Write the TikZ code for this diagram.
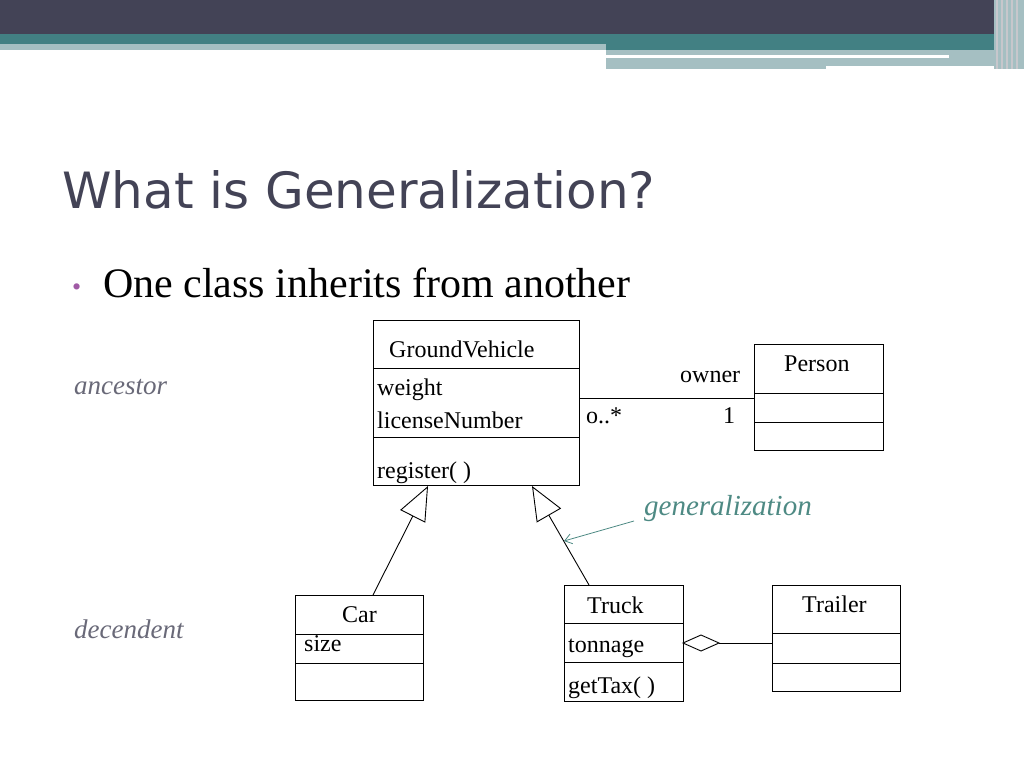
\documentclass[tikz,border=0pt]{standalone}
\usepackage{fontspec}
\setmainfont{Liberation Serif}
\newfontfamily\titlefont{DejaVu Sans}
\usetikzlibrary{arrows.meta}
\definecolor{dark}{HTML}{434356}
\definecolor{teal}{HTML}{428083}
\definecolor{lite}{HTML}{A5BFC2}
\definecolor{gen}{HTML}{4E8A84}
\definecolor{bul}{HTML}{A05AA5}
\tikzset{
 box/.style={draw,line width=0.9pt},
 lbl/.style={font=\fontsize{24}{28}\selectfont,inner sep=0pt,anchor=base west},
 ext/.style={draw,-{Triangle[open,length=34pt,width=28pt]},line width=0.9pt},
}
\begin{document}
\begin{tikzpicture}[x=1pt,y=-1pt]
\useasboundingbox (0,0) rectangle (1024,768);
\fill[white] (0,0) rectangle (1024,768);
% banner
\fill[dark] (0,0) rectangle (1024,34);
\fill[teal] (0,34) rectangle (1024,44);
\fill[lite] (0,44) rectangle (606,50);
\fill[teal] (606,44) rectangle (1004,50);
\fill[lite] (606,50) rectangle (1004,66);
\fill[lite] (606,66) rectangle (826,69);
\fill[white] (606,55) rectangle (949,58);
\fill[lite] (994,0) rectangle (1024,69);
\foreach \x in {996,1001,1006,1011,1016} \fill[white!70!dark] (\x,0) rectangle (\x+1.5,69);
% title
\node[anchor=base west,inner sep=0pt,text=dark,font=\titlefont\fontsize{50}{56}\selectfont] (title) at (62,208) {What is Generalization?};
\node[anchor=base west,inner sep=0pt,text=bul,font=\fontsize{26}{28}\selectfont] (bul) at (72,295) {\textbullet};
\node[anchor=base west,inner sep=0pt,font=\fontsize{42}{46}\selectfont] (sub) at (103,297) {One class inherits from another};
\node[anchor=base west,inner sep=0pt,text=dark!80,font=\itshape\fontsize{27}{30}\selectfont] (anc) at (74,394) {ancestor};
\node[anchor=base west,inner sep=0pt,text=dark!80,font=\itshape\fontsize{27}{30}\selectfont] (dec) at (74,638) {decendent};
% GroundVehicle
\draw[box] (373,320) rectangle (579,485);
\draw[box] (373,368) -- (579,368) (373,437) -- (579,437);
\node[lbl] (gv) at (389,357) {GroundVehicle};
\node[lbl] (w) at (377,395) {weight};
\node[lbl] (ln) at (377,428) {licenseNumber};
\node[lbl] (reg) at (377,478) {register( )};
\coordinate (gvR) at (579,398);
% Person
\draw[box] (754,344) rectangle (883,450);
\draw[box] (754,393) -- (883,393) (754,422) -- (883,422);
\node[lbl] (p) at (784,371) {Person};
\coordinate (pL) at (754,398);
\draw[line width=0.9pt] (gvR) -- (pL);
\node[lbl] (own) at (680,382) {owner};
\node[lbl] (m1) at (586,423) {o..*};
\node[lbl] (m2) at (723,423) {1};
% Car
\draw[box] (295,595) rectangle (423,700);
\draw[box] (295,634) -- (423,634) (295,663) -- (423,663);
\node[lbl] (car) at (342,622) {Car};
\node[lbl] (size) at (304,651) {size};
% Truck
\draw[box] (564,585) rectangle (683,701);
\draw[box] (564,623) -- (683,623) (564,662) -- (683,662);
\node[lbl] (tr) at (587,613) {Truck};
\node[lbl] (ton) at (568,652) {tonnage};
\node[lbl] (tax) at (568,693) {getTax( )};
% Trailer
\draw[box] (772,585) rectangle (900,691);
\draw[box] (772,633) -- (900,633) (772,663) -- (900,663);
\node[lbl] (trl) at (802,612) {Trailer};
% generalization arrows
\coordinate (carT) at (373,595);
\coordinate (gvA) at (428,486);
\coordinate (truckT) at (589,585);
\coordinate (gvB) at (532,486);
\draw[ext] (carT) -- (gvA);
\draw[ext] (truckT) -- (gvB);
% aggregation
\coordinate (truckR) at (683,643);
\coordinate (trlL) at (772,643);
\draw[line width=0.9pt] (trlL) -- (719,643);
\draw[line width=0.9pt,fill=white] (683,643) -- (701,635) -- (719,643) -- (701,651) -- cycle;
% annotation
\node[anchor=base west,inner sep=0pt,text=gen,font=\itshape\fontsize{29}{32}\selectfont] (genl) at (644,515) {generalization};
\coordinate (ga) at (634,521);
\coordinate (gb) at (564,541);
\draw[gen,line width=0.8pt,-{Straight Barb[length=7pt,width=10pt]}] (ga) -- (gb);
\end{tikzpicture}
\end{document}
